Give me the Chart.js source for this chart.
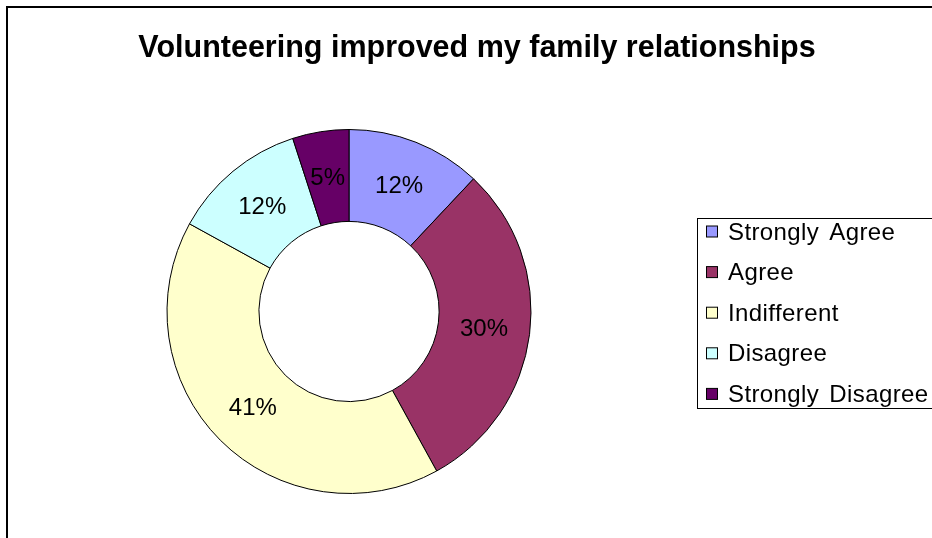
<!DOCTYPE html>
<html>
<head>
<meta charset="utf-8">
<script src="https://cdn.jsdelivr.net/npm/chart.js@4/dist/chart.umd.min.js"></script>
<style>
  html, body { margin: 0; padding: 0; background: #fff; overflow: hidden; }
  canvas { display: block; }
</style>
</head>
<body>
<canvas id="chart" width="932" height="538"></canvas>
<script>
// Survey question and response breakdown (percent of respondents)
const chartTitle = 'Volunteering improved my family relationships';
const categories = ['Strongly Agree', 'Agree', 'Indifferent', 'Disagree', 'Strongly Disagree'];
const shares = [12, 30, 41, 12, 5];
const sliceColors = ['#9999FF', '#993366', '#FFFFCC', '#CCFFFF', '#660066'];

const FONT = '"Liberation Sans", Arial, Helvetica, sans-serif';

// White page with the outer frame line
const framePlugin = {
  id: 'frame',
  beforeDraw(chart) {
    const ctx = chart.ctx;
    ctx.save();
    ctx.fillStyle = '#ffffff';
    ctx.fillRect(0, 0, chart.width, chart.height);
    ctx.strokeStyle = '#000000';
    ctx.lineWidth = 2;
    ctx.strokeRect(7, 7, chart.width + 20, chart.height + 20);
    ctx.restore();
  }
};

// Bold heading across the top
const titlePlugin = {
  id: 'heading',
  afterDraw(chart) {
    const ctx = chart.ctx;
    ctx.save();
    ctx.fillStyle = '#000000';
    ctx.font = 'bold 30.5px ' + FONT;
    ctx.textAlign = 'center';
    ctx.textBaseline = 'alphabetic';
    ctx.fillText(chartTitle, 477, 57);
    ctx.restore();
  }
};

// Percentage label at the middle of each ring segment
const sliceLabelPlugin = {
  id: 'sliceLabels',
  afterDatasetsDraw(chart) {
    const ctx = chart.ctx;
    const meta = chart.getDatasetMeta(0);
    const values = chart.data.datasets[0].data;
    const total = values.reduce((a, b) => a + b, 0);
    ctx.save();
    ctx.fillStyle = '#000000';
    ctx.font = '24px ' + FONT;
    ctx.textAlign = 'center';
    ctx.textBaseline = 'middle';
    meta.data.forEach((arc, i) => {
      const p = arc.tooltipPosition();
      const pct = Math.round(values[i] / total * 100) + '%';
      ctx.fillText(pct, p.x, p.y + 1);
    });
    ctx.restore();
  }
};

// Boxed legend on the right
const boxLegendPlugin = {
  id: 'boxLegend',
  afterDraw(chart) {
    const ctx = chart.ctx;
    const labels = chart.data.labels;
    const colors = chart.data.datasets[0].backgroundColor;
    const left = 697, top = 218, bottom = 408;
    ctx.save();
    ctx.fillStyle = '#ffffff';
    ctx.fillRect(left, top, chart.width - left + 10, bottom - top);
    ctx.strokeStyle = '#000000';
    ctx.lineWidth = 1;
    ctx.strokeRect(left + 0.5, top + 0.5, chart.width - left + 10, bottom - top);
    ctx.font = '24px ' + FONT;
    if ('letterSpacing' in ctx) ctx.letterSpacing = '0.4px';
    if ('wordSpacing' in ctx) ctx.wordSpacing = '3px';
    ctx.textAlign = 'left';
    ctx.textBaseline = 'alphabetic';
    const firstBaseline = 239.5, step = 40.6;
    labels.forEach((lab, i) => {
      const base = firstBaseline + i * step;
      ctx.fillStyle = colors[i];
      ctx.fillRect(706.5, base - 13.5, 11, 11);
      ctx.strokeStyle = '#000000';
      ctx.strokeRect(706.5, base - 13.5, 11, 11);
      ctx.fillStyle = '#000000';
      ctx.fillText(lab, 728, base);
    });
    ctx.restore();
  }
};

new Chart(document.getElementById('chart'), {
  type: 'doughnut',
  data: {
    labels: categories,
    datasets: [{
      data: shares,
      backgroundColor: sliceColors,
      borderColor: '#000000',
      borderWidth: 1,
      borderAlign: 'center'
    }]
  },
  options: {
    responsive: false,
    animation: false,
    events: [],
    cutout: '49.5%',
    layout: { padding: { left: 166, right: 400, top: 129, bottom: 44 } },
    plugins: {
      legend: { display: false },
      title: { display: false },
      tooltip: { enabled: false }
    }
  },
  plugins: [framePlugin, titlePlugin, sliceLabelPlugin, boxLegendPlugin]
});
</script>
</body>
</html>
